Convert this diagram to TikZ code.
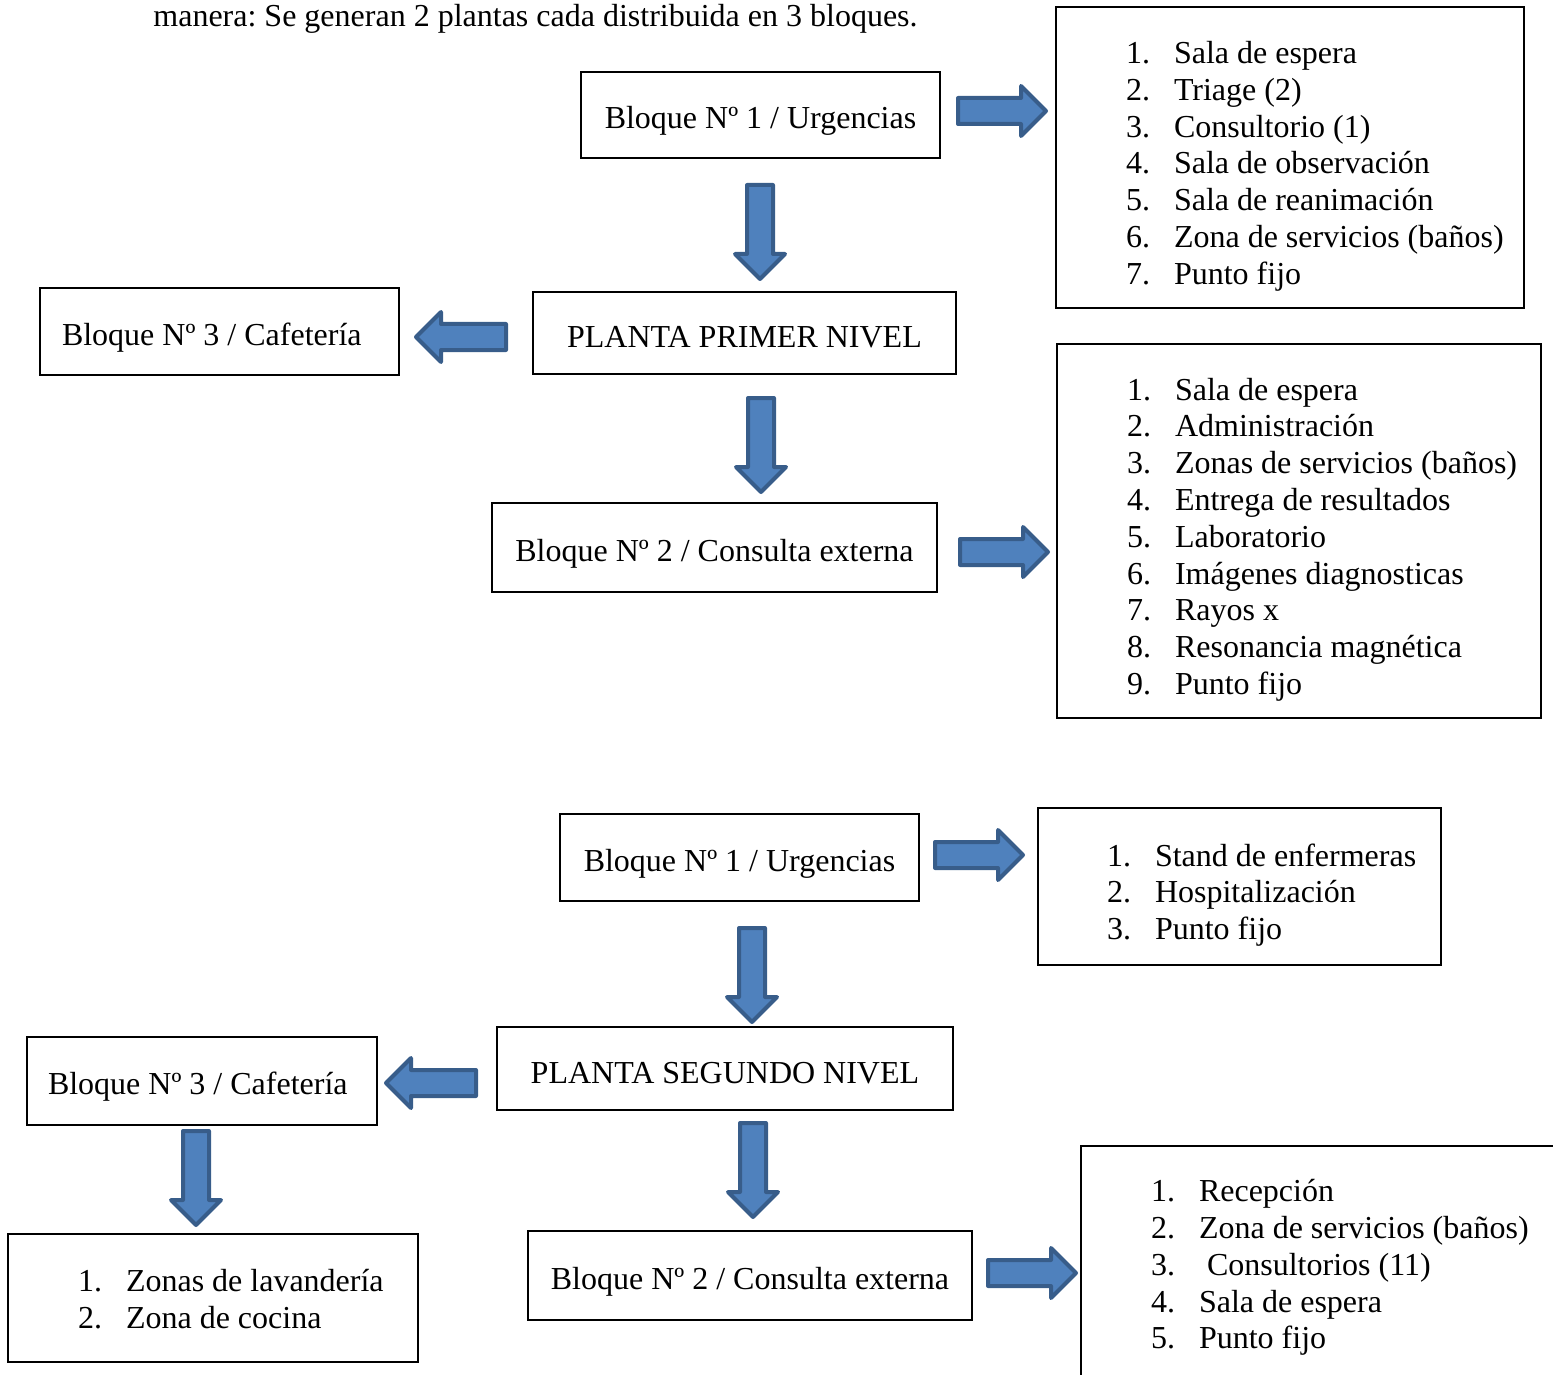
\documentclass[tikz,border=0pt]{standalone}
\usepackage{fontspec}
\setmainfont{Liberation Serif}
\usetikzlibrary{shapes.arrows}
\frenchspacing
\definecolor{flecha}{HTML}{4F81BD}
\definecolor{flechaborde}{HTML}{385D8A}
\newcommand{\listaitems}[2][0pt]{\vspace*{#1}\begin{tabular}{@{}p{24pt}@{}l@{}}#2\end{tabular}}
\tikzset{
  caja/.style={draw, line width=1.2pt, inner sep=0pt, text height=17.3pt, text depth=3.6pt},
  lista/.style={draw, line width=1.2pt, inner sep=0pt, align=flush left},
  flechabloque/.style={single arrow, draw=flechaborde, fill=flecha, line width=2pt,
    line join=round, inner xsep=0pt, inner ysep=5.5pt, minimum width=0pt,
    single arrow head extend=6pt, single arrow tip angle=90, anchor=tail},
  fder/.style={flechabloque, minimum height=44pt},
  fizq/.style={flechabloque, minimum height=45pt, rotate=180},
  fabj/.style={flechabloque, minimum height=47pt, rotate=-90}
}
\begin{document}
\begin{tikzpicture}[x=0.5pt, y=-0.5pt, font=\fontsize{16}{18.4}\selectfont]
  \useasboundingbox (0,0) rectangle (1553,1375);

  % texto de arriba
  \node[anchor=base west, inner sep=0pt] (intro) at (153,27)
    {manera: Se generan 2 plantas cada distribuida en 3 bloques.};

  % planta primer nivel
  \node[caja, minimum width=179.5pt, minimum height=43pt] (urg1) at (760.5,115) {Bloque Nº 1 / Urgencias};
  \node[caja, minimum width=211.5pt, minimum height=41pt, text height=18.5pt] (planta1) at (744.5,333) {PLANTA PRIMER NIVEL};
  \node[caja, minimum width=179.5pt, minimum height=43.5pt, align=flush left, text width=157.5pt] (caf1) at (219.5,331.5) {Bloque Nº 3 / Cafetería};
  \node[caja, minimum width=222.5pt, minimum height=44.5pt] (ext1) at (714.5,547.5) {Bloque Nº 2 / Consulta externa};

  \node[lista, minimum width=234pt, minimum height=150.5pt, text width=164pt] (lista1) at (1290,157.5)
    {\listaitems[-9pt]{1. & Sala de espera\\ 2. & Triage (2)\\ 3. & Consultorio (1)\\ 4. & Sala de observación\\
     5. & Sala de reanimación\\ 6. & Zona de servicios (baños)\\ 7. & Punto fijo}};
  \node[lista, minimum width=242pt, minimum height=187pt, text width=172pt] (lista2) at (1299,531)
    {\listaitems[-9pt]{1. & Sala de espera\\ 2. & Administración\\ 3. & Zonas de servicios (baños)\\
     4. & Entrega de resultados\\ 5. & Laboratorio\\ 6. & Imágenes diagnosticas\\ 7. & Rayos x\\
     8. & Resonancia magnética\\ 9. & Punto fijo}};

  % flechas primer nivel
  \node[fder] (f1) at (956,111) {};
  \node[fabj] (f2) at (760,183) {};
  \node[fizq] (f3) at (508,337) {};
  \node[fabj] (f4) at (761,396) {};
  \node[fder] (f5) at (958,552) {};

  % planta segundo nivel
  \node[caja, minimum width=179.5pt, minimum height=43.5pt] (urg2) at (739.5,857.5) {Bloque Nº 1 / Urgencias};
  \node[caja, minimum width=228pt, minimum height=41.5pt, text height=18.5pt] (planta2) at (725,1068.5) {PLANTA SEGUNDO NIVEL};
  \node[caja, minimum width=175pt, minimum height=44pt, align=flush left, text width=154pt] (caf2) at (202,1081) {Bloque Nº 3 / Cafetería};
  \node[caja, minimum width=222pt, minimum height=44.5pt] (ext2) at (750,1275.5) {Bloque Nº 2 / Consulta externa};

  \node[lista, minimum width=201.5pt, minimum height=78.5pt, text width=132.5pt] (lista3) at (1239.5,886.5)
    {\listaitems[-9pt]{1. & Stand de enfermeras\\ 2. & Hospitalización\\ 3. & Punto fijo}};
  \node[lista, minimum width=260pt, minimum height=119pt, text width=190pt] (lista4) at (1341,1265)
    {\listaitems[-3pt]{1. & Recepción\\ 2. & Zona de servicios (baños)\\ 3. & \ Consultorios (11)\\
     4. & Sala de espera\\ 5. & Punto fijo}};
  \node[lista, minimum width=205pt, minimum height=64pt, text width=135pt] (lista5) at (213,1298)
    {\listaitems[-5pt]{1. & Zonas de lavandería\\ 2. & Zona de cocina}};

  % flechas segundo nivel
  \node[fder] (f6) at (933,855) {};
  \node[fabj] (f7) at (752,926) {};
  \node[fizq] (f8) at (478,1083) {};
  \node[fabj] (f9) at (196,1129) {};
  \node[fabj] (f10) at (753,1121) {};
  \node[fder] (f11) at (986,1273) {};
\end{tikzpicture}
\end{document}
